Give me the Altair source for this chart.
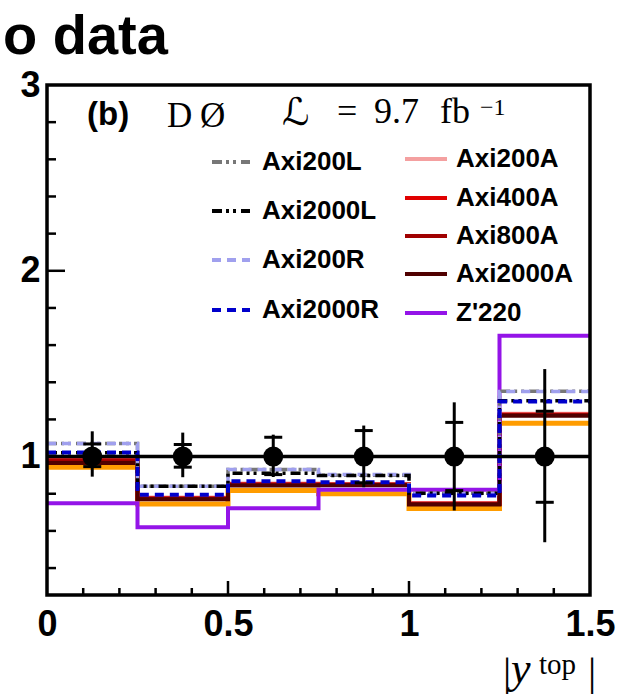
import altair as alt
import pandas as pd

# ---------------- data ----------------
bin_edges = [0.0, 0.25, 0.5, 0.75, 1.0, 1.25, 1.5]

series_names = ["Axi200L", "Axi2000L", "Axi200R", "Axi2000R",
                "Axi200A", "Axi400A", "Axi800A", "Axi2000A", "Z'220"]

axi200L = [1.07, 0.84, 0.93, 0.90, 0.803, 1.351]
axi2000L = [1.02, 0.84, 0.91, 0.898, 0.803, 1.30]
axi200R = [1.07, 0.84, 0.93, 0.903, 0.80, 1.35]
axi2000R = [1.022, 0.795, 0.867, 0.862, 0.79, 1.296]
axi200A = [0.985, 0.78, 0.855, 0.853, 0.75, 1.23]
axi400A = [0.98, 0.776, 0.851, 0.85, 0.748, 1.226]
axi800A = [0.975, 0.773, 0.848, 0.848, 0.745, 1.224]
axi2000A = [0.965, 0.77, 0.845, 0.846, 0.742, 1.22]
zp220 = [0.749, 0.62, 0.722, 0.821, 0.821, 1.65]
other_orange = [0.943, 0.745, 0.817, 0.80, 0.72, 1.18]

data_ratio = [1.0, 1.0, 1.0, 1.0, 1.0, 1.0]
err_hi_total = [1.136, 1.129, 1.118, 1.167, 1.292, 1.471]
err_lo_total = [0.892, 0.889, 0.890, 0.835, 0.710, 0.539]
err_hi_stat = [1.068, 1.065, 1.104, 1.140, 1.184, 1.244]
err_lo_stat = [0.946, 0.943, 0.903, 0.859, 0.817, 0.754]

ref_level = [1.0]

x_tick_labels = [0, 0.5, 1, 1.5]
y_tick_labels = [1, 2, 3]
x_major_ticks = [0.5, 1.0]
x_minor_ticks = [0.1, 0.2, 0.3, 0.4, 0.6, 0.7, 0.8, 0.9, 1.1, 1.2, 1.3, 1.4]
y_major_ticks = [1, 2]
y_minor_ticks = [0.4, 0.6, 0.8, 1.2, 1.4, 1.6, 1.8, 2.2, 2.4, 2.6, 2.8]

# ---------------- layout ----------------
W, H = 543, 510
SANS = "Liberation Sans"
SERIF = "Liberation Serif, DejaVu Serif"

xs = alt.Scale(domain=[0, 1.5], nice=False, zero=False)
ys = alt.Scale(domain=[0.255, 3.0], nice=False, zero=False)
xaxis = alt.Axis(values=x_tick_labels, labelExpr="datum.value", title=None,
                 ticks=False, domain=False, grid=False, labelFont=SANS,
                 labelFontWeight="bold", labelFontSize=36, labelColor="black",
                 labelPadding=12, labelFlush=False)
yaxis = alt.Axis(values=y_tick_labels, title=None, ticks=False, domain=False,
                 grid=False, labelFont=SANS, labelFontWeight="bold",
                 labelFontSize=36, labelColor="black", labelPadding=7,
                 labelBaseline="middle")


def X(field):
    return alt.X(field, type="quantitative", scale=xs, axis=xaxis)


def Y(field):
    return alt.Y(field, type="quantitative", scale=ys, axis=yaxis)


def hist_df(vals):
    return pd.DataFrame({"edge": bin_edges, "value": list(vals) + [vals[-1]]})


styles = {
    "orange": dict(color="#ff9c00", strokeWidth=5, dash=None),
    "Axi200A": dict(color="#f4a0a0", strokeWidth=4, dash=None),
    "Axi400A": dict(color="#e00000", strokeWidth=4, dash=None),
    "Axi800A": dict(color="#a00000", strokeWidth=4, dash=None),
    "Axi2000A": dict(color="#500000", strokeWidth=4, dash=None),
    "Z'220": dict(color="#9414e8", strokeWidth=4, dash=None),
    "Axi200L": dict(color="#777777", strokeWidth=3.5, dash=[10, 4, 3, 4, 3, 5]),
    "Axi200R": dict(color="#a0a0ee", strokeWidth=3.5, dash=[9, 6]),
    "Axi2000L": dict(color="#000000", strokeWidth=3.5, dash=[10, 4, 3, 4, 3, 5]),
    "Axi2000R": dict(color="#0000cc", strokeWidth=4, dash=[9, 6]),
}
values = {
    "orange": other_orange, "Axi200A": axi200A, "Axi400A": axi400A,
    "Axi800A": axi800A, "Axi2000A": axi2000A, "Z'220": zp220,
    "Axi200L": axi200L, "Axi200R": axi200R, "Axi2000L": axi2000L,
    "Axi2000R": axi2000R,
}
draw_order = ["orange", "Axi200A", "Axi400A", "Axi800A", "Axi2000A", "Z'220",
              "Axi200L", "Axi200R", "Axi2000L", "Axi2000R"]

layers = []
for name in draw_order:
    st = styles[name]
    kw = dict(interpolate="step-after", color=st["color"],
              strokeWidth=st["strokeWidth"], clip=True)
    if st["dash"]:
        kw["strokeDash"] = st["dash"]
    layers.append(alt.Chart(hist_df(values[name])).mark_line(**kw).encode(
        x=X("edge"), y=Y("value")))

# reference line at 1
layers.append(alt.Chart(pd.DataFrame({"v": ref_level})).mark_rule(
    color="black", strokeWidth=3.5).encode(y=Y("v")))

centers = [(bin_edges[i] + bin_edges[i + 1]) / 2 for i in range(len(bin_edges) - 1)]
pts = pd.DataFrame({"x": centers, "y": data_ratio,
                    "lo": err_lo_total, "hi": err_hi_total,
                    "slo": err_lo_stat, "shi": err_hi_stat})
layers.append(alt.Chart(pts).mark_rule(color="black", strokeWidth=3).encode(
    x=X("x"), y=Y("lo"), y2="hi"))
for f in ["slo", "shi"]:
    layers.append(alt.Chart(pts).mark_tick(
        color="black", orient="horizontal", size=18, thickness=3,
        opacity=1).encode(x=X("x"), y=Y(f)))
layers.append(alt.Chart(pts).mark_circle(color="black", opacity=1, size=400).encode(
    x=X("x"), y=Y("y")))

# inner ticks
layers.append(alt.Chart(pd.DataFrame({"t": y_major_ticks})).mark_rule(
    color="black", strokeWidth=2.5).encode(y=Y("t"), x=alt.value(0), x2=alt.value(18)))
layers.append(alt.Chart(pd.DataFrame({"t": y_minor_ticks})).mark_rule(
    color="black", strokeWidth=2.5).encode(y=Y("t"), x=alt.value(0), x2=alt.value(9)))
layers.append(alt.Chart(pd.DataFrame({"t": x_major_ticks})).mark_rule(
    color="black", strokeWidth=2.5).encode(x=X("t"), y=alt.value(H), y2=alt.value(H - 14)))
layers.append(alt.Chart(pd.DataFrame({"t": x_minor_ticks})).mark_rule(
    color="black", strokeWidth=2.5).encode(x=X("t"), y=alt.value(H), y2=alt.value(H - 7)))

# frame
layers.append(alt.Chart(alt.Data(values=[{}])).mark_rect(
    fill=None, fillOpacity=0, stroke="black", strokeWidth=3.5).encode(
    x=alt.value(0), x2=alt.value(W), y=alt.value(0), y2=alt.value(H)))


def label(text, x, y, size, font=SANS, weight="normal", style="normal",
          align="left", baseline="alphabetic"):
    return alt.Chart(alt.Data(values=[{}])).mark_text(
        text=text, font=font, fontSize=size, fontWeight=weight, fontStyle=style,
        align=align, baseline=baseline, color="black").encode(
        x=alt.value(x), y=alt.value(y))


# legend
left_col = [("Axi200L", 77), ("Axi2000L", 126), ("Axi200R", 175), ("Axi2000R", 225)]
right_col = [("Axi200A", 74), ("Axi400A", 113), ("Axi800A", 151),
             ("Axi2000A", 189), ("Z'220", 228)]
for entries, x0, x1, xt in [(left_col, 165, 203, 215), (right_col, 358, 400, 409)]:
    for name, yy in entries:
        st = styles[name]
        kw = dict(color=st["color"], strokeWidth=4)
        if st["dash"]:
            kw["strokeDash"] = st["dash"]
        layers.append(alt.Chart(alt.Data(values=[{}])).mark_rule(**kw).encode(
            x=alt.value(x0), x2=alt.value(x1), y=alt.value(yy)))
        layers.append(label(name, xt, yy, 26, weight="bold", baseline="middle"))

# annotations
layers += [
    label("o data", -44, -31, 56, weight="bold"),
    label("(b)", 40, 40, 33, weight="bold"),
    label("D", 120, 42, 35, font=SERIF),
    label("Ø", 153, 42, 35, font=SERIF),
    label("ℒ", 235, 40, 38, font="DejaVu Serif, DejaVu Sans", style="italic"),
    label("=", 290, 38, 36, font=SERIF),
    label("9.7", 327, 38, 36, font=SERIF),
    label("fb", 393, 38, 36, font=SERIF),
    label("−1", 433, 30, 24, font=SERIF),
    label("|", 456, 600, 41, font=SERIF),
    label("y", 464, 598, 44, font=SERIF, style="italic"),
    label("top", 492, 589, 29, font=SERIF),
    label("|", 541, 600, 41, font=SERIF),
]

chart = alt.layer(*layers).properties(
    width=W, height=H,
    autosize=alt.AutoSizeParams(type="none"),
    padding={"left": 47, "top": 85, "right": 32, "bottom": 103},
).configure_view(stroke=None).configure(background="white")

chart.save("out.html", embed_options={"renderer": "svg", "actions": False})
